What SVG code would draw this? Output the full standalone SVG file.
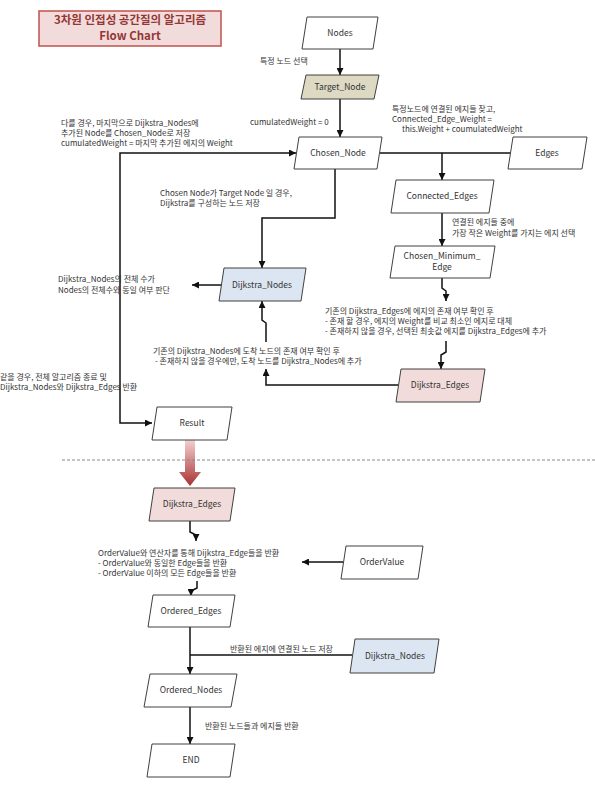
<svg xmlns="http://www.w3.org/2000/svg" width="595" height="788" viewBox="0 0 595 788">
<style>
text{font-family:"Noto Sans CJK KR","Noto Sans",sans-serif;fill:#333;}
.lb{font-size:8px;}
.nt{font-size:8.5px;text-anchor:middle;}
.tt{font-size:11.5px;font-weight:bold;fill:#953735;text-anchor:middle;}
.nd{stroke:#404040;stroke-width:1;fill:#fff;}
.bl{fill:#dce6f2;}
.pk{fill:#f2dcdb;}
.ol{fill:#ddd9c3;}
.cn{fill:none;stroke:#111;stroke-width:1.5;}
</style>
<defs>
<marker id="ah" markerUnits="userSpaceOnUse" markerWidth="8" markerHeight="7" refX="7" refY="3.5" orient="auto">
<path d="M0,0 L7,3.5 L0,7 z" fill="#111"/>
</marker>
<linearGradient id="rg" x1="0" y1="0" x2="0" y2="1">
<stop offset="0" stop-color="#f4d0d0"/>
<stop offset="1" stop-color="#a83232"/>
</linearGradient>
</defs>
<rect width="595" height="788" fill="#fff"/>

<g id="title">
<rect x="39" y="11" width="182" height="35" fill="#f2dcdb" stroke="#c0504d" stroke-width="1.5"/>
<text class="tt" x="130" y="24">3차원 인접성 공간질의 알고리즘</text>
<text class="tt" x="130" y="40">Flow Chart</text>
</g>

<g id="connectors">
<path class="cn" d="M340,49 V75" marker-end="url(#ah)"/>
<path class="cn" d="M340,99 V137" marker-end="url(#ah)"/>
<path class="cn" d="M380,153 H511"/>
<path class="cn" d="M442,153 V180" marker-end="url(#ah)"/>
<path class="cn" d="M442,213 V246" marker-end="url(#ah)"/>
<path class="cn" d="M442,278 V288 L446,291 V301" marker-end="url(#ah)"/>
<path class="cn" d="M446,341 V352 L441,355 V369" marker-end="url(#ah)"/>
<path class="cn" d="M398,385 H266 V369" marker-end="url(#ah)"/>
<path class="cn" d="M266,342 V323 L262,320 V301" marker-end="url(#ah)"/>
<path class="cn" d="M335,169 V218 H262 V268" marker-end="url(#ah)"/>
<path class="cn" d="M222,285 H192" marker-end="url(#ah)"/>
<path class="cn" d="M120,300 V153 H296" marker-end="url(#ah)"/>
<path class="cn" d="M120,300 V423 H152" marker-end="url(#ah)"/>
<polygon points="185,440 195,440 195,472 201,472 190,486 179,472 185,472" fill="url(#rg)"/>
<path class="cn" d="M190,521 V532 L196,535 V541" marker-end="url(#ah)"/>
<path class="cn" d="M197,581 V588 L191,591 V596" marker-end="url(#ah)"/>
<path class="cn" d="M343,562 H302" marker-end="url(#ah)"/>
<path class="cn" d="M190,627 V674" marker-end="url(#ah)"/>
<path class="cn" d="M352,655 H190"/>
<path class="cn" d="M190,707 V744" marker-end="url(#ah)"/>
<line x1="62" y1="460" x2="595" y2="460" stroke="#888" stroke-width="1" stroke-dasharray="3,2"/>
</g>

<g id="labels">
<text class="lb" x="260" y="64">특정 노드 선택</text>
<text class="lb" x="250" y="125">cumulatedWeight = 0</text>
<text class="lb" x="392" y="112">특정노드에 연결된 에지들 찾고,</text>
<text class="lb" x="392" y="122">Connected_Edge_Weight =</text>
<text class="lb" x="402" y="132">this.Weight + coumulatedWeight</text>
<text class="lb" x="61" y="126">다를 경우, 마지막으로 Dijkstra_Nodes에</text>
<text class="lb" x="61" y="136">추가된 Node를 Chosen_Node로 저장</text>
<text class="lb" x="61" y="146">cumulatedWeight = 마지막 추가된 에지의 Weight</text>
<text class="lb" x="160" y="196">Chosen Node가 Target Node 일 경우,</text>
<text class="lb" x="160" y="206">Dijkstra를 구성하는 노드 저장</text>
<text class="lb" x="452" y="225">연결된 에지들 중에</text>
<text class="lb" x="452" y="236">가장 작은 Weight를 가지는 에지 선택</text>
<text class="lb" x="58" y="282">Dijkstra_Nodes의 전체 수가</text>
<text class="lb" x="58" y="293">Nodes의 전체수와 동일 여부 판단</text>
<text class="lb" x="325" y="314">기존의 Dijkstra_Edges에 에지의 존재 여부 확인 후</text>
<text class="lb" x="325" y="324">- 존재 할 경우, 에지의 Weight를 비교 최소인 에지로 대체</text>
<text class="lb" x="325" y="334">- 존재하지 않을 경우, 선택된 최솟값 에지를 Dijkstra_Edges에 추가</text>
<text class="lb" x="153" y="354">기존의 Dijkstra_Nodes에 도착 노드의 존재 여부 확인 후</text>
<text class="lb" x="155" y="364">- 존재하지 않을 경우에만, 도착 노드를 Dijkstra_Nodes에 추가</text>
<text class="lb" x="0" y="380">같을 경우, 전체 알고리즘 종료 및</text>
<text class="lb" x="0" y="390">Dijkstra_Nodes와 Dijkstra_Edges 반환</text>
<text class="lb" x="98" y="556">OrderValue와 연산자를 통해 Dijkstra_Edge들을 반환</text>
<text class="lb" x="98" y="566">- OrderValue와 동일한 Edge들을 반환</text>
<text class="lb" x="98" y="576">- OrderValue 이하의 모든 Edge들을 반환</text>
<text class="lb" x="230" y="652">반환된 에지에 연결된 노드 저장</text>
<text class="lb" x="205" y="729">반환된 노드들과 에지들 반환</text>
</g>

<g id="node-nodes"><polygon class="nd" points="307,17 378,17 373,49 302,49"/><text class="nt" x="340" y="36">Nodes</text></g>
<g id="node-target"><polygon class="nd ol" points="306,75 379,75 374,99 301,99"/><text class="nt" x="340" y="90">Target_Node</text></g>
<g id="node-chosen"><polygon class="nd" points="299,137 382,137 377,169 294,169"/><text class="nt" x="338" y="156">Chosen_Node</text></g>
<g id="node-edges"><polygon class="nd" points="513,137 587,137 582,169 508,169"/><text class="nt" x="547" y="156">Edges</text></g>
<g id="node-connected"><polygon class="nd" points="396,180 494,180 489,213 391,213"/><text class="nt" x="442" y="199">Connected_Edges</text></g>
<g id="node-minimum"><polygon class="nd" points="395,246 495,246 490,278 390,278"/><text class="nt" x="442" y="259">Chosen_Minimum_</text><text class="nt" x="442" y="270">Edge</text></g>
<g id="node-dnodes1"><polygon class="nd bl" points="224,268 306,268 301,301 219,301"/><text class="nt" x="262" y="288">Dijkstra_Nodes</text></g>
<g id="node-dedges1"><polygon class="nd pk" points="401,369 485,369 480,402 396,402"/><text class="nt" x="440" y="388">Dijkstra_Edges</text></g>
<g id="node-result"><polygon class="nd" points="157,407 232,407 227,440 152,440"/><text class="nt" x="192" y="426">Result</text></g>
<g id="node-dedges2"><polygon class="nd pk" points="154,488 235,488 230,521 149,521"/><text class="nt" x="192" y="507">Dijkstra_Edges</text></g>
<g id="node-ordervalue"><polygon class="nd" points="346,546 423,546 418,579 341,579"/><text class="nt" x="382" y="565">OrderValue</text></g>
<g id="node-orderededges"><polygon class="nd" points="153,595 235,595 230,627 148,627"/><text class="nt" x="191" y="614">Ordered_Edges</text></g>
<g id="node-dnodes2"><polygon class="nd bl" points="355,639 439,639 434,673 350,673"/><text class="nt" x="395" y="659">Dijkstra_Nodes</text></g>
<g id="node-orderednodes"><polygon class="nd" points="150,674 237,674 231,707 144,707"/><text class="nt" x="191" y="693">Ordered_Nodes</text></g>
<g id="node-end"><polygon class="nd" points="152,744 235,744 230,777 147,777"/><text class="nt" x="191" y="763">END</text></g>
</svg>
